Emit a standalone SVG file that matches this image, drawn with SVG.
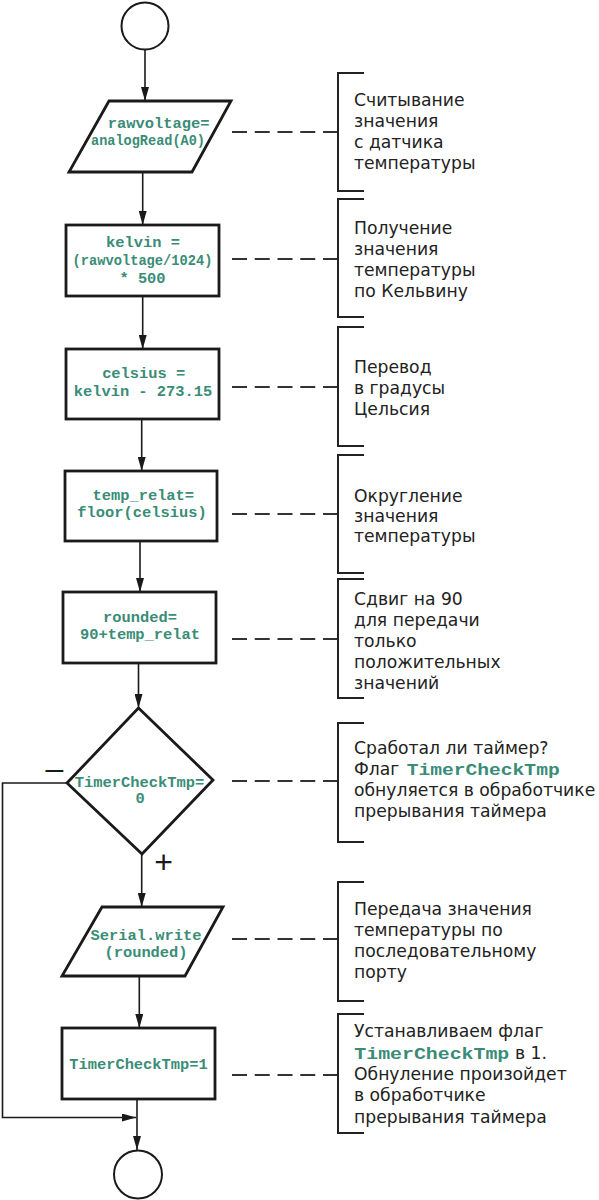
<svg xmlns="http://www.w3.org/2000/svg" width="599" height="1200" viewBox="0 0 599 1200">
<style>
.bg{fill:#ffffff}
.node{fill:#ffffff;stroke:#1a1a1a;stroke-width:2.8}
.term{fill:#ffffff;stroke:#1a1a1a;stroke-width:2}
.code{font-family:"Liberation Mono","Courier New",monospace;font-weight:bold;font-size:15.4px;fill:#3a8c77;text-anchor:middle}
.icode{font-family:"Liberation Mono","Courier New",monospace;font-weight:bold;font-size:17px;fill:#3a8c77}
.note{font-family:"DejaVu Sans","Liberation Sans",sans-serif;font-size:17.2px;fill:#222222}
.sign{font-family:"Liberation Sans",Arial,sans-serif;font-size:32px;fill:#1a1a1a;text-anchor:middle}
.flow{fill:none;stroke:#1a1a1a;stroke-width:1.6}
.lead{fill:none;stroke:#333333;stroke-width:2;stroke-dasharray:15 7.75}
.brk{fill:none;stroke:#222222;stroke-width:2}
</style>
<defs>
<marker id="ah" markerUnits="userSpaceOnUse" markerWidth="14" markerHeight="8" refX="14" refY="4" orient="auto">
<path d="M0,0 L14,4 L0,8 z" fill="#1a1a1a"/>
</marker>
</defs>
<rect class="bg" x="0" y="0" width="599" height="1200"/>

<g id="connectors">
<line class="flow" x1="145" y1="49.5" x2="145" y2="101" marker-end="url(#ah)"/>
<line class="flow" x1="142.7" y1="172" x2="142.7" y2="225" marker-end="url(#ah)"/>
<line class="flow" x1="142.7" y1="296" x2="142.7" y2="349" marker-end="url(#ah)"/>
<line class="flow" x1="141.7" y1="419" x2="141.7" y2="471" marker-end="url(#ah)"/>
<line class="flow" x1="140" y1="541" x2="140" y2="592" marker-end="url(#ah)"/>
<line class="flow" x1="138.5" y1="663" x2="138.5" y2="708" marker-end="url(#ah)"/>
<line class="flow" x1="141.7" y1="854" x2="141.7" y2="907" marker-end="url(#ah)"/>
<line class="flow" x1="139.3" y1="976" x2="139.3" y2="1028" marker-end="url(#ah)"/>
<line class="flow" x1="137" y1="1099" x2="137" y2="1150" marker-end="url(#ah)"/>
<polyline class="flow" points="67,783 2.5,783 2.5,1117.5 136,1117.5" marker-end="url(#ah)"/>
<text class="sign" x="54.5" y="779">–</text>
<text class="sign" x="163.5" y="873">+</text>
</g>

<g id="leaders">
<line class="lead" x1="232" y1="132" x2="338" y2="132"/>
<line class="lead" x1="232" y1="259" x2="338" y2="259"/>
<line class="lead" x1="232" y1="387" x2="338" y2="387"/>
<line class="lead" x1="232" y1="514" x2="338" y2="514"/>
<line class="lead" x1="232" y1="639" x2="338" y2="639"/>
<line class="lead" x1="232" y1="781" x2="338" y2="781"/>
<line class="lead" x1="232" y1="939" x2="338" y2="939"/>
<line class="lead" x1="232" y1="1075" x2="338" y2="1075"/>
</g>

<g id="start">
<circle class="term" cx="145" cy="26" r="23.5"/>
</g>

<g id="read">
<polygon class="node" points="109,101 231,101 192,172 69,172"/>
<text class="code" x="158.6" y="127.5">rawvoltage=</text>
<text class="code" x="148" y="145" textLength="114" lengthAdjust="spacingAndGlyphs">analogRead(A0)</text>
</g>

<g id="kelvin">
<rect class="node" x="66" y="225" width="153" height="71"/>
<text class="code" x="143" y="247">kelvin =</text>
<text class="code" x="142.5" y="265" textLength="140" lengthAdjust="spacingAndGlyphs">(rawvoltage/1024)</text>
<text class="code" x="142.5" y="282.7">* 500</text>
</g>

<g id="celsius">
<rect class="node" x="66" y="349" width="153" height="70"/>
<text class="code" x="143.7" y="378">celsius =</text>
<text class="code" x="143" y="395.5">kelvin - 273.15</text>
</g>

<g id="floor">
<rect class="node" x="65" y="471" width="152" height="70"/>
<text class="code" x="143.3" y="500">temp_relat=</text>
<text class="code" x="142" y="517.3">floor(celsius)</text>
</g>

<g id="rounded">
<rect class="node" x="63" y="592" width="153" height="71"/>
<text class="code" x="140" y="621.7">rounded=</text>
<text class="code" x="140" y="639.3">90+temp_relat</text>
</g>

<g id="check">
<polygon class="node" points="138.5,708 213,780 142,854 67,783"/>
<text class="code" x="139.5" y="786.7">TimerCheckTmp=</text>
<text class="code" x="140" y="803">0</text>
</g>

<g id="write">
<polygon class="node" points="102,907 223,907 185,976 62,976"/>
<text class="code" x="146" y="940">Serial.write</text>
<text class="code" x="146" y="956.7">(rounded)</text>
</g>

<g id="setflag">
<rect class="node" x="62" y="1028" width="153" height="71"/>
<text class="code" x="138.5" y="1069.3">TimerCheckTmp=1</text>
</g>

<g id="end">
<circle class="term" cx="138" cy="1174.5" r="24"/>
</g>

<g id="note1">
<polyline class="brk" points="364,73 338,73 338,191 364,191"/>
<text class="note" x="354" y="105.7">Считывание</text>
<text class="note" x="354" y="126.5">значения</text>
<text class="note" x="354" y="147.5">с датчика</text>
<text class="note" x="354" y="168.7">температуры</text>
</g>

<g id="note2">
<polyline class="brk" points="364,199 338,199 338,317 364,317"/>
<text class="note" x="354" y="234">Получение</text>
<text class="note" x="354" y="255">значения</text>
<text class="note" x="354" y="276">температуры</text>
<text class="note" x="354" y="297">по Кельвину</text>
</g>

<g id="note3">
<polyline class="brk" points="364,327 338,327 338,446 364,446"/>
<text class="note" x="354" y="373.3">Перевод</text>
<text class="note" x="354" y="394">в градусы</text>
<text class="note" x="354" y="414.5">Цельсия</text>
</g>

<g id="note4">
<polyline class="brk" points="364,455 338,455 338,573 364,573"/>
<text class="note" x="354" y="501.7">Округление</text>
<text class="note" x="354" y="522">значения</text>
<text class="note" x="354" y="542">температуры</text>
</g>

<g id="note5">
<polyline class="brk" points="364,579 338,579 338,698 364,698"/>
<text class="note" x="354" y="605">Сдвиг на 90</text>
<text class="note" x="354" y="626">для передачи</text>
<text class="note" x="354" y="647">только</text>
<text class="note" x="354" y="668">положительных</text>
<text class="note" x="354" y="689">значений</text>
</g>

<g id="note6">
<polyline class="brk" points="364,723 338,723 338,842 364,842"/>
<text class="note" x="354" y="754">Сработал ли таймер?</text>
<text class="note" x="354" y="774.5">Флаг</text>
<text class="icode" x="406.7" y="774.5" textLength="153" lengthAdjust="spacingAndGlyphs">TimerCheckTmp</text>
<text class="note" x="354" y="795.5">обнуляется в обработчике</text>
<text class="note" x="354" y="816.5">прерывания таймера</text>
</g>

<g id="note7">
<polyline class="brk" points="364,882 338,882 338,1001 364,1001"/>
<text class="note" x="354" y="914.5">Передача значения</text>
<text class="note" x="354" y="935.5">температуры по</text>
<text class="note" x="354" y="956.5">последовательному</text>
<text class="note" x="354" y="977.8">порту</text>
</g>

<g id="note8">
<polyline class="brk" points="364,1014 338,1014 338,1133 364,1133"/>
<text class="note" x="354" y="1037.3">Устанавливаем флаг</text>
<text class="icode" x="354.3" y="1058.5" textLength="155" lengthAdjust="spacingAndGlyphs">TimerCheckTmp</text>
<text class="note" x="515" y="1058.5">в 1.</text>
<text class="note" x="354" y="1079.8">Обнуление произойдет</text>
<text class="note" x="354" y="1101">в обработчике</text>
<text class="note" x="354" y="1122.5">прерывания таймера</text>
</g>
</svg>
